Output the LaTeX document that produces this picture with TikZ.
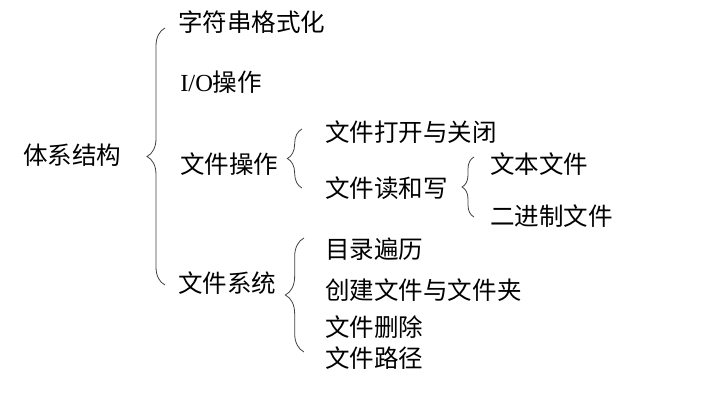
\documentclass[tikz,border=0pt]{standalone}
\usepackage{fontspec}
\setmainfont{Noto Sans CJK SC}
\newfontfamily\latinserif{Liberation Serif}
\usetikzlibrary{decorations.pathreplacing}

\begin{document}
\begin{tikzpicture}[x=0.75pt, y=-0.75pt,
  txt/.style={anchor=west, inner sep=0pt, font=\fontsize{18.4}{22}\selectfont},
  brc/.style={black!75, line width=0.6pt, decorate}]
  \useasboundingbox (0,0) rectangle (721,401);

  % Wurzel
  \node[txt] (root) at (23,155) {体系结构};

  % Erste Ebene
  \node[txt] (fmt)   at (178,22)  {字符串格式化};
  \node[txt] (io)    at (180,82)  {{\latinserif I/O}操作};
  \node[txt] (fop)   at (180,164) {文件操作};
  \node[txt] (fsys)  at (178,283) {文件系统};

  % Dateioperationen
  \node[txt] (open)  at (325,132) {文件打开与关闭};
  \node[txt] (rw)    at (325,188) {文件读和写};
  \node[txt] (text)  at (490,164) {文本文件};
  \node[txt] (bin)   at (490,216) {二进制文件};

  % Dateisystem
  \node[txt] (walk)  at (325,249) {目录遍历};
  \node[txt] (mk)    at (325,290) {创建文件与文件夹};
  \node[txt] (del)   at (325,327) {文件删除};
  \node[txt] (path)  at (325,358) {文件路径};

  % Klammern
  \coordinate (b1top) at (165,28);  \coordinate (b1bot) at (165,285);
  \coordinate (b2top) at (302,129); \coordinate (b2bot) at (302,188);
  \coordinate (b3top) at (474,157); \coordinate (b3bot) at (474,217);
  \coordinate (b4top) at (304,238); \coordinate (b4bot) at (304,352);
  \draw[brc, decoration={brace, amplitude=13.5pt}] (b1bot) -- (b1top);
  \draw[brc, decoration={brace, amplitude=11pt}] (b2bot) -- (b2top);
  \draw[brc, decoration={brace, amplitude=9pt}] (b3bot) -- (b3top);
  \draw[brc, decoration={brace, amplitude=14pt}] (b4bot) -- (b4top);
\end{tikzpicture}
\end{document}
